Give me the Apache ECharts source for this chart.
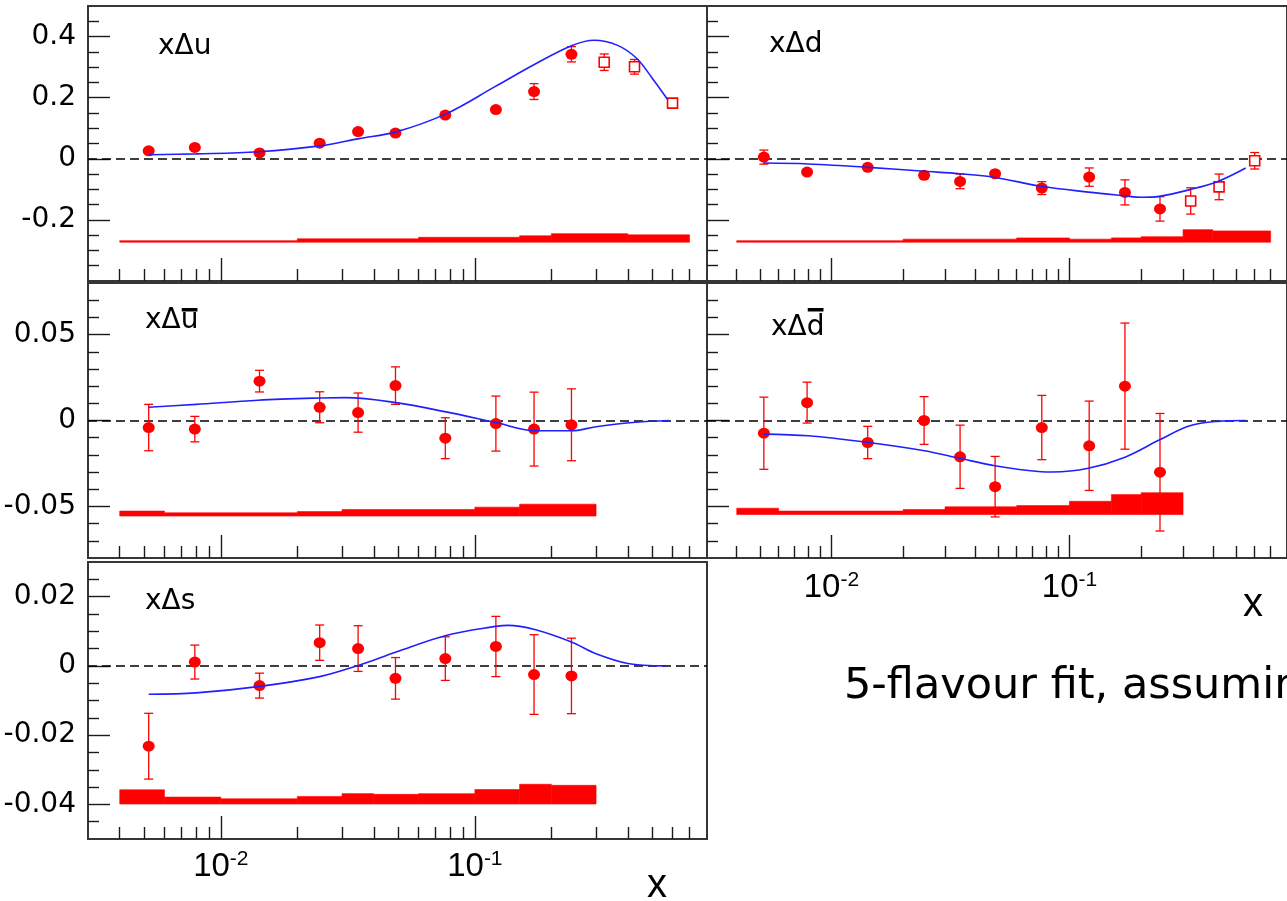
<!DOCTYPE html>
<html><head><meta charset="utf-8">
<script src="https://cdn.jsdelivr.net/npm/echarts@6/dist/echarts.min.js"></script>
<style>html,body{margin:0;padding:0;background:#fff;overflow:hidden}#c{width:1287px;height:901px}</style>
</head><body><div id="c"></div>
<script>
// ---------------- data ----------------
const X_MIN = 0.003, X_MAX = 0.82;
const xMajorTicks = [0.01, 0.1];
const xMinorTicks = [0.004,0.005,0.006,0.007,0.008,0.009,0.02,0.03,0.04,0.05,0.06,0.07,0.08,0.09,0.2,0.3,0.4,0.5,0.6,0.7];

const yMajorQ = [-0.2, 0, 0.2, 0.4];
const yMinorQ = [-0.35,-0.3,-0.25,-0.15,-0.1,-0.05,0.05,0.1,0.15,0.25,0.3,0.35,0.45];
const yMajorSea = [-0.05, 0, 0.05];
const yMinorSea = [-0.07,-0.06,-0.04,-0.03,-0.02,-0.01,0.01,0.02,0.03,0.04,0.06,0.07];
const yMajorS = [-0.04, -0.02, 0, 0.02];
const yMinorS = [-0.045,-0.035,-0.03,-0.025,-0.015,-0.01,-0.005,0.005,0.01,0.015,0.025];

const xBins = [0.0052, 0.0079, 0.0142, 0.0245, 0.0347, 0.0487, 0.0765, 0.121, 0.171, 0.240];
const xHigh = [0.323, 0.425, 0.600];

// x Delta u
const uVal = [0.026, 0.037, 0.019, 0.051, 0.089, 0.084, 0.143, 0.161, 0.220, 0.342];
const uErr = [0.006, 0.006, 0.007, 0.007, 0.008, 0.008, 0.010, 0.008, 0.026, 0.025];
const uHighVal = [0.316, 0.301, 0.182];
const uHighErr = [0.027, 0.024, 0.008];
const uFitX = [0.0052, 0.008, 0.014, 0.025, 0.035, 0.049, 0.077, 0.12, 0.17, 0.24, 0.295, 0.363, 0.433, 0.50, 0.575];
const uFitY = [0.013, 0.016, 0.023, 0.043, 0.066, 0.088, 0.147, 0.236, 0.307, 0.370, 0.388, 0.372, 0.329, 0.263, 0.193];
const uBandEdges = [0.004, 0.02, 0.06, 0.15, 0.2, 0.4, 0.7];
const uBandTop = [-0.268, -0.262, -0.257, -0.252, -0.245, -0.249];

// x Delta d
const dVal = [0.0055, -0.0435, -0.028, -0.054, -0.074, -0.049, -0.096, -0.060, -0.110, -0.164];
const dErr = [0.023, 0.006, 0.006, 0.010, 0.024, 0.007, 0.021, 0.030, 0.041, 0.040];
const dHighVal = [-0.138, -0.092, -0.0065];
const dHighErr = [0.043, 0.042, 0.027];
const dFitX = [0.0052, 0.008, 0.0143, 0.0246, 0.0346, 0.0486, 0.076, 0.12, 0.17, 0.20, 0.238, 0.32, 0.42, 0.55];
const dFitY = [-0.014, -0.017, -0.028, -0.041, -0.049, -0.061, -0.090, -0.109, -0.121, -0.126, -0.123, -0.101, -0.074, -0.030];
const dBandEdges = [0.004, 0.02, 0.06, 0.1, 0.15, 0.2, 0.3, 0.4, 0.7];
const dBandTop = [-0.268, -0.263, -0.259, -0.263, -0.259, -0.255, -0.232, -0.236];

// x Delta u-bar
const ubVal = [-0.0041, -0.005, 0.0229, 0.0077, 0.0046, 0.0203, -0.0103, -0.0018, -0.005, -0.0025];
const ubErr = [0.0135, 0.0074, 0.0063, 0.009, 0.0114, 0.0109, 0.0119, 0.016, 0.0215, 0.0209];
const ubFitX = [0.0052, 0.008, 0.014, 0.0245, 0.031, 0.049, 0.077, 0.121, 0.172, 0.24, 0.30, 0.43, 0.58];
const ubFitY = [0.0077, 0.0094, 0.0118, 0.0131, 0.0133, 0.0104, 0.0050, -0.0012, -0.0060, -0.0060, -0.0036, -0.0010, 0.0];
const ubBandEdges = [0.004, 0.006, 0.02, 0.03, 0.1, 0.15, 0.3];
const ubBandTop = [-0.0527, -0.0537, -0.0530, -0.0518, -0.0504, -0.0487];

// x Delta d-bar
const dbVal = [-0.0074, 0.0104, -0.0128, 0.0, -0.0211, -0.0385, -0.0041, -0.0147, 0.020, -0.0301];
const dbErr = [0.021, 0.0119, 0.0094, 0.0139, 0.0184, 0.0176, 0.0187, 0.026, 0.0367, 0.0342];
const dbFitX = [0.0052, 0.008, 0.0143, 0.0246, 0.0346, 0.0486, 0.076, 0.085, 0.12, 0.17, 0.238, 0.32, 0.42, 0.55];
const dbFitY = [-0.0079, -0.0089, -0.0128, -0.0176, -0.0220, -0.0263, -0.0298, -0.0300, -0.0278, -0.0215, -0.0114, -0.0031, -0.0005, 0.0];
const dbBandEdges = [0.004, 0.006, 0.02, 0.03, 0.06, 0.1, 0.15, 0.2, 0.3];
const dbBandTop = [-0.0510, -0.0527, -0.0518, -0.0502, -0.0495, -0.0470, -0.0431, -0.0420];

// x Delta s
const sVal = [-0.0232, 0.0011, -0.0057, 0.0067, 0.0050, -0.0036, 0.0021, 0.0056, -0.0025, -0.0029];
const sErr = [0.0095, 0.0049, 0.0036, 0.0051, 0.0066, 0.0060, 0.0063, 0.0087, 0.0115, 0.0109];
const sFitX = [0.0052, 0.008, 0.014, 0.0245, 0.035, 0.049, 0.077, 0.121, 0.135, 0.172, 0.24, 0.30, 0.40, 0.56];
const sFitY = [-0.0082, -0.0078, -0.0060, -0.0031, 0.0002, 0.0040, 0.0088, 0.0114, 0.0117, 0.0105, 0.0069, 0.0035, 0.0007, 0.0];
const sBandEdges = [0.004, 0.006, 0.01, 0.02, 0.03, 0.04, 0.06, 0.1, 0.15, 0.2, 0.3];
const sBandTop = [-0.0358, -0.0379, -0.0384, -0.0377, -0.0369, -0.0371, -0.0369, -0.0357, -0.0342, -0.0345];

// ---------------- layout / styles ----------------
const RED = '#ff0000', BLUE = '#2020ff';
const panels = [
  {lab:['xΔ','u',false], lx:158, ly:50, grid:{left:88, top:6, width:619, height:275}, yMin:-0.4, yMax:0.5, yMajor:yMajorQ, yMinor:yMinorQ, yLabels:true, xLabels:false,
   v:uVal, e:uErr, hv:uHighVal, he:uHighErr, fx:uFitX, fy:uFitY, be:uBandEdges, bt:uBandTop, bb:-0.273},
  {lab:['xΔ','d',false], lx:769, ly:48, grid:{left:707, top:6, width:597.5, height:275}, yMin:-0.4, yMax:0.5, yMajor:yMajorQ, yMinor:yMinorQ, yLabels:false, xLabels:false,
   v:dVal, e:dErr, hv:dHighVal, he:dHighErr, fx:dFitX, fy:dFitY, be:dBandEdges, bt:dBandTop, bb:-0.273},
  {lab:['xΔ','u',true], lx:145, ly:324, grid:{left:88, top:283, width:619, height:275}, yMin:-0.08, yMax:0.08, yMajor:yMajorSea, yMinor:yMinorSea, yLabels:true, xLabels:false,
   v:ubVal, e:ubErr, fx:ubFitX, fy:ubFitY, be:ubBandEdges, bt:ubBandTop, bb:-0.0556},
  {lab:['xΔ','d',true], lx:771, ly:331, grid:{left:707, top:283, width:597.5, height:275}, yMin:-0.08, yMax:0.08, yMajor:yMajorSea, yMinor:yMinorSea, yLabels:false, xLabels:true, xLabMargin:12,
   v:dbVal, e:dbErr, fx:dbFitX, fy:dbFitY, be:dbBandEdges, bt:dbBandTop, bb:-0.0547},
  {lab:['xΔ','s',false], lx:145, ly:605, grid:{left:88, top:562, width:619, height:277}, yMin:-0.05, yMax:0.03, yMajor:yMajorS, yMinor:yMinorS, yLabels:true, xLabels:true, xLabMargin:10,
   v:sVal, e:sErr, fx:sFitX, fy:sFitY, be:sBandEdges, bt:sBandTop, bb:-0.0399}
];

const tickStyle = {color:'#1a1a1a', width:1.4};
function errRender(params, api) {
  const x = api.value(0), y = api.value(1), e = api.value(2);
  const t = api.coord([x, y + e]), b = api.coord([x, y - e]);
  const c = 4.5, st = {stroke: RED, lineWidth: 1.3};
  return {type:'group', children:[
    {type:'line', shape:{x1:t[0], y1:t[1], x2:b[0], y2:b[1]}, style:st},
    {type:'line', shape:{x1:t[0]-c, y1:t[1], x2:t[0]+c, y2:t[1]}, style:st},
    {type:'line', shape:{x1:b[0]-c, y1:b[1], x2:b[0]+c, y2:b[1]}, style:st}
  ]};
}
function bandRender(params, api) {
  const p0 = api.coord([api.value(0), api.value(2)]);
  const p1 = api.coord([api.value(1), api.value(3)]);
  return {type:'rect', shape:{x:p0[0], y:p0[1], width:p1[0]-p0[0], height:p1[1]-p0[1]},
          style:{fill:RED, stroke:RED, lineWidth:0.6}};
}

const grids = [], xAxes = [], yAxes = [], series = [], graphics = [];
const meas = document.createElement('canvas').getContext('2d');
const LABEL_FONT = '28px "DejaVu Sans"';
meas.font = LABEL_FONT;

panels.forEach((p, i) => {
  grids.push(Object.assign({show:true, borderColor:'#363636', borderWidth:2, backgroundColor:'transparent'}, p.grid));
  const xi = xAxes.length, yi = yAxes.length;
  xAxes.push({type:'log', logBase:10, gridIndex:i, position:'bottom', min:X_MIN, max:X_MAX, axisLine:{show:false, onZero:false}, splitLine:{show:false},
    axisTick:{show:true, inside:true, length:23, customValues:xMajorTicks, lineStyle:tickStyle},
    axisLabel:{show:p.xLabels, customValues:xMajorTicks, margin:p.xLabMargin || 12, fontSize:33, fontFamily:'Liberation Sans', color:'#000',
      formatter: v => '{b|10}{s|' + Math.round(Math.log10(v)) + '}',
      rich:{b:{fontSize:33, fontFamily:'Liberation Sans', color:'#000', lineHeight:36},
            s:{fontSize:21, fontFamily:'Liberation Sans', color:'#000', verticalAlign:'top', lineHeight:21}}}});
  xAxes.push({type:'log', logBase:10, gridIndex:i, position:'bottom', min:X_MIN, max:X_MAX, axisLine:{show:false, onZero:false}, splitLine:{show:false},
    axisTick:{show:true, inside:true, length:12, customValues:xMinorTicks, lineStyle:tickStyle}, axisLabel:{show:false}});
  yAxes.push({type:'value', gridIndex:i, position:'left', min:p.yMin, max:p.yMax, axisLine:{show:false, onZero:false}, splitLine:{show:false},
    axisTick:{show:true, inside:true, length:22, customValues:p.yMajor, lineStyle:tickStyle},
    axisLabel:{show:p.yLabels, customValues:p.yMajor, margin:12, fontSize:28, fontFamily:'DejaVu Sans', color:'#000', formatter: v => String(v)}});
  yAxes.push({type:'value', gridIndex:i, position:'left', min:p.yMin, max:p.yMax, axisLine:{show:false, onZero:false}, splitLine:{show:false},
    axisTick:{show:true, inside:true, length:11, customValues:p.yMinor, lineStyle:tickStyle}, axisLabel:{show:false}});

  const ax = {xAxisIndex:xi, yAxisIndex:yi};
  const band = p.bt.map((t, k) => [p.be[k], p.be[k+1], t, p.bb]);
  series.push(Object.assign({type:'custom', z:2, silent:true, renderItem:bandRender, encode:{x:[0,1], y:[2,3]}, data:band}, ax));
  series.push(Object.assign({type:'custom', z:3, silent:true, renderItem:errRender, encode:{x:0, y:1},
    data:xBins.map((x, k) => [x, p.v[k], p.e[k]])}, ax));
  series.push(Object.assign({type:'scatter', z:4, silent:true, symbol:'circle', symbolSize:[12,11], itemStyle:{color:RED, opacity:1},
    data:xBins.map((x, k) => [x, p.v[k]])}, ax));
  if (p.hv) {
    series.push(Object.assign({type:'custom', z:3, silent:true, renderItem:errRender, encode:{x:0, y:1},
      data:xHigh.map((x, k) => [x, p.hv[k], p.he[k]])}, ax));
    series.push(Object.assign({type:'scatter', z:4, silent:true, symbol:'rect', symbolSize:[10,10],
      itemStyle:{color:'#fff', borderColor:RED, borderWidth:1.6, opacity:1},
      data:xHigh.map((x, k) => [x, p.hv[k]])}, ax));
  }
  series.push(Object.assign({type:'line', z:6, silent:true, smooth:0.35, showSymbol:false,
    lineStyle:{color:BLUE, width:1.6}, data:p.fx.map((x, k) => [x, p.fy[k]]),
    markLine:{silent:true, z:1, symbol:['none','none'], label:{show:false},
      lineStyle:{type:[9,5], color:'#000', width:1.5}, data:[{yAxis:0}]}}, ax));

  const w = meas.measureText(p.lab[0]).width;
  const lw = meas.measureText(p.lab[1]).width;
  graphics.push({type:'text', left:p.lx, top:p.ly - 17, style:{text:p.lab[0] + p.lab[1], font:LABEL_FONT, fill:'#000'}});
  if (p.lab[2]) {
    graphics.push({type:'rect', shape:{x:p.lx + w + 1, y:308, width:lw - 2, height:3.5}, style:{fill:'#000'}});
  }
});

graphics.push({type:'text', left:647, top:866, style:{text:'x', font:'40px "Liberation Sans"', fill:'#000'}});
graphics.push({type:'text', left:1243, top:585, style:{text:'x', font:'40px "Liberation Sans"', fill:'#000'}});
graphics.push({type:'text', left:844, top:665, style:{text:'5-flavour fit, assuming', font:'43px "DejaVu Sans"', fill:'#000'}});

const chart = echarts.init(document.getElementById('c'), null, {renderer:'canvas'});
chart.setOption({animation:false, backgroundColor:'#fff', grid:grids, xAxis:xAxes, yAxis:yAxes, series:series, graphic:graphics});
</script></body></html>
